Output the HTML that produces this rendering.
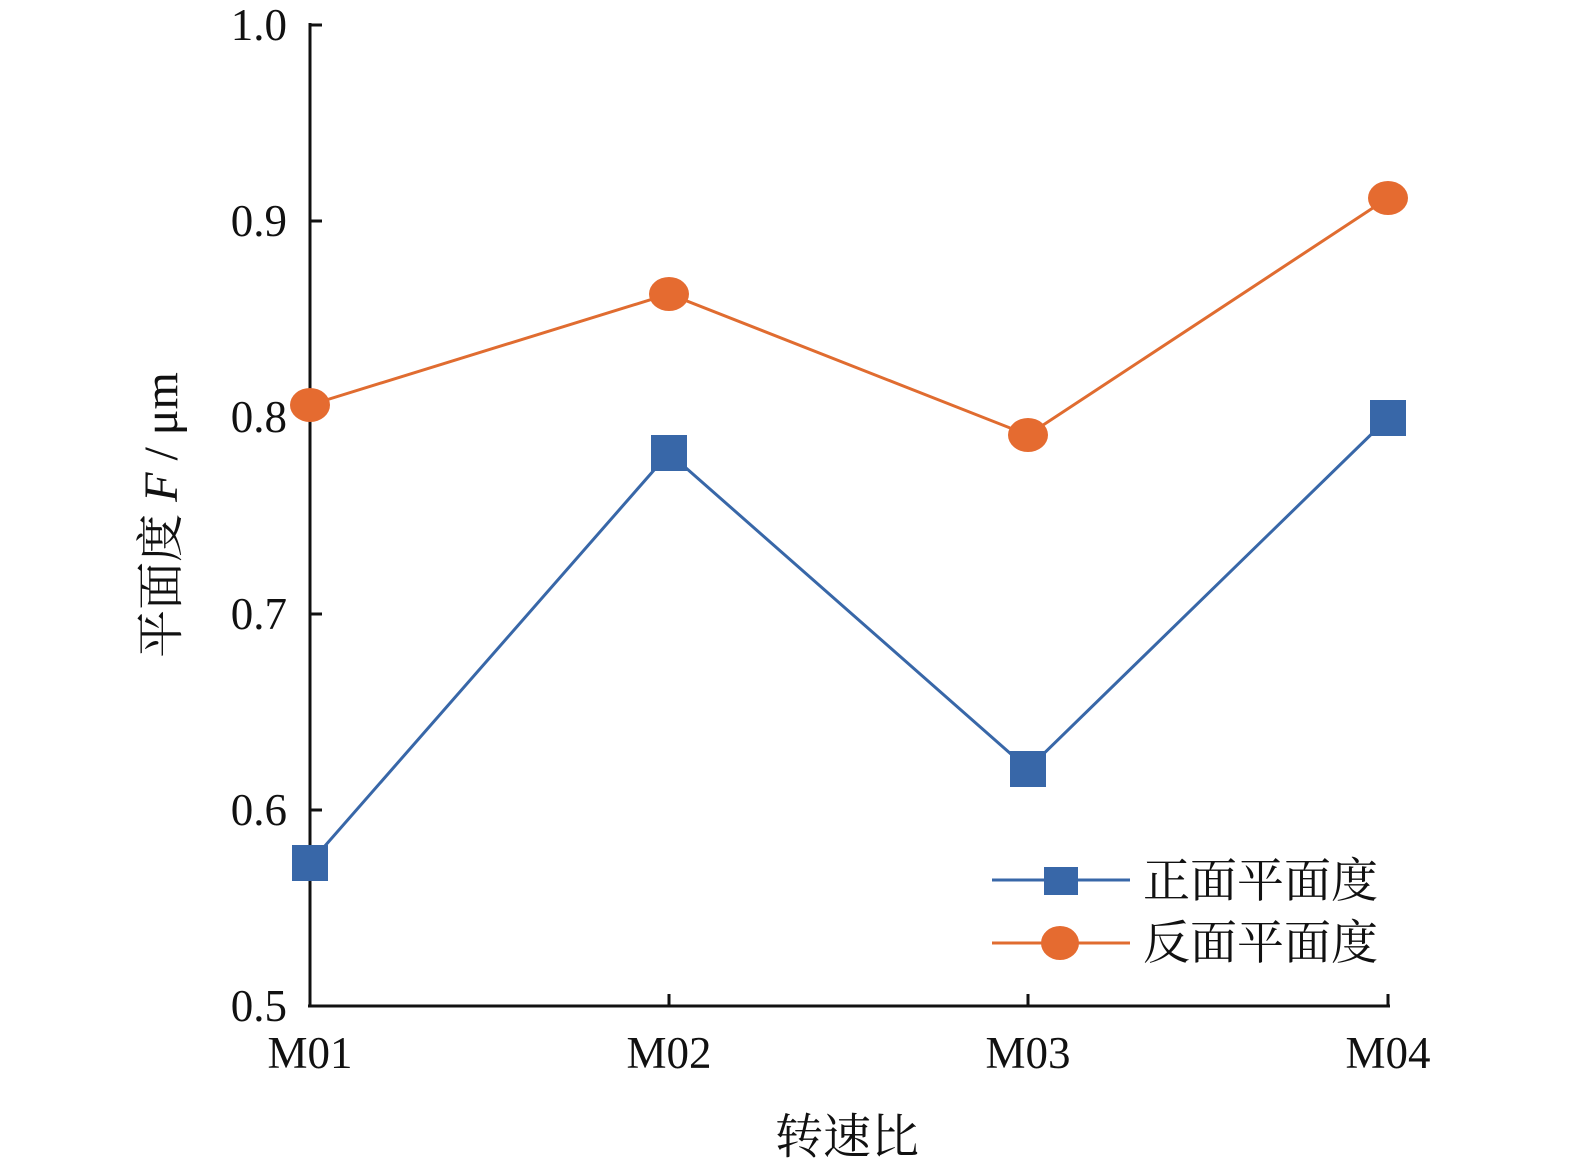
<!DOCTYPE html>
<html><head><meta charset="utf-8"><style>
html,body{margin:0;padding:0;background:#fff;}
svg{display:block;}
text{font-family:"Liberation Serif","Noto Serif CJK SC",serif;fill:#111;}
</style></head><body>
<svg width="1575" height="1173" viewBox="0 0 1575 1173" xmlns="http://www.w3.org/2000/svg">
<g stroke="#111" stroke-width="3" fill="none">
<line x1="310" y1="23" x2="310" y2="1007"/>
<line x1="308" y1="1006" x2="1390" y2="1006"/>
<line x1="310" y1="25" x2="322" y2="25"/>
<line x1="310" y1="221" x2="322" y2="221"/>
<line x1="310" y1="417" x2="322" y2="417"/>
<line x1="310" y1="614" x2="322" y2="614"/>
<line x1="310" y1="810" x2="322" y2="810"/>
<line x1="669" y1="1006" x2="669" y2="994"/>
<line x1="1028" y1="1006" x2="1028" y2="994"/>
<line x1="1388" y1="1006" x2="1388" y2="994"/>
</g>
<g font-size="45" text-anchor="end">
<text x="287" y="40">1.0</text>
<text x="287" y="236">0.9</text>
<text x="287" y="432">0.8</text>
<text x="287" y="629">0.7</text>
<text x="287" y="825">0.6</text>
<text x="287" y="1021">0.5</text>
</g>
<g font-size="45" text-anchor="middle">
<text x="310" y="1068">M01</text>
<text x="669" y="1068">M02</text>
<text x="1028" y="1068">M03</text>
<text x="1388" y="1068">M04</text>
</g>
<text x="847" y="1153" font-size="48" text-anchor="middle">转速比</text>
<text font-size="48" text-anchor="middle" transform="translate(177,515) rotate(-90)">平面度 <tspan font-style="italic">F</tspan> / μm</text>
<polyline points="310,863 669,453 1028,769 1388,418" fill="none" stroke="#3867a8" stroke-width="3"/>
<polyline points="310,405 669,294 1028,435 1388,198" fill="none" stroke="#e06c30" stroke-width="3"/>
<g fill="#3867a8">
<rect x="292" y="845" width="36" height="36"/>
<rect x="651" y="435" width="36" height="36"/>
<rect x="1010" y="751" width="36" height="36"/>
<rect x="1370" y="400" width="36" height="36"/>
</g>
<g fill="#e56b30">
<ellipse cx="310" cy="405" rx="20" ry="17"/>
<ellipse cx="669" cy="294" rx="20" ry="17"/>
<ellipse cx="1028" cy="435" rx="20" ry="17"/>
<ellipse cx="1388" cy="198" rx="20" ry="17"/>
</g>
<line x1="992" y1="880" x2="1130" y2="880" stroke="#3867a8" stroke-width="3"/>
<rect x="1044" y="867" width="34" height="28" fill="#3867a8"/>
<line x1="992" y1="943" x2="1130" y2="943" stroke="#e06c30" stroke-width="3"/>
<ellipse cx="1060" cy="943" rx="19" ry="17" fill="#e56b30"/>
<g font-size="47">
<text x="1143" y="897">正面平面度</text>
<text x="1143" y="959">反面平面度</text>
</g>
</svg>
</body></html>
